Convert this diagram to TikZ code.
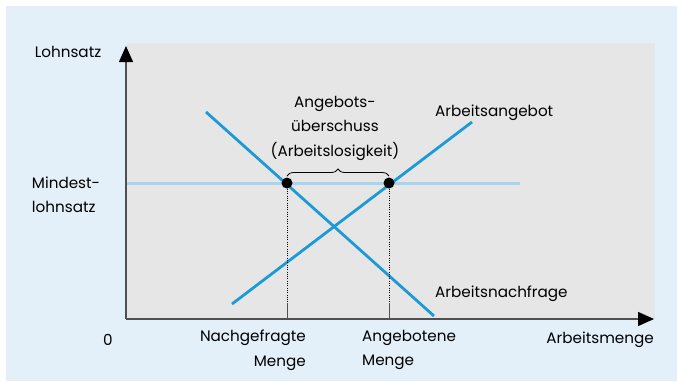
\documentclass[tikz,border=0pt]{standalone}
\usepackage{fontspec}
\setmainfont{Poppins}
\usetikzlibrary{arrows.meta,decorations.pathreplacing}
\definecolor{bgblue}{HTML}{E3F0FA}
\definecolor{plotgray}{HTML}{E6E6E6}
\definecolor{curveblue}{HTML}{1C9AD6}
\definecolor{minblue}{HTML}{A8D4EF}
\definecolor{axisgray}{HTML}{505050}
\tikzset{
  lbl/.style={inner sep=0pt, font=\fontsize{15.2}{24.5}\selectfont, text=black},
  axisline/.style={draw=axisgray, line width=1.4pt},
  axisarrow/.style={-{Triangle[length=16pt,width=14pt,color=black]}},
  curve/.style={draw=curveblue, line width=2.8pt},
  minline/.style={draw=minblue, line width=3pt},
  dotnode/.style={circle, fill=black, inner sep=0pt, minimum size=11pt},
  guide/.style={draw=black, line width=0.6pt, dash pattern=on 0.7pt off 1.6pt},
  tick/.style={draw=axisgray, line width=0.9pt},
  bracepath/.style={draw=black, line width=0.8pt, decorate, decoration={brace, amplitude=7pt}}
}
\begin{document}
\begin{tikzpicture}[x=1pt,y=-1pt]
\useasboundingbox (0,0) rectangle (677,381);
\fill[white] (0,0) rectangle (677,381);
\fill[bgblue] (6,6) rectangle (677,381);
\fill[plotgray] (127,43) rectangle (655,319);
% coordinates
\coordinate (O) at (126,319);
\coordinate (ytip) at (126,46);
\coordinate (xtip) at (654,319);
\coordinate (m1) at (127,183);
\coordinate (m2) at (520,183);
\coordinate (D1) at (206,112);
\coordinate (D2) at (434,316);
\coordinate (S1) at (232,304);
\coordinate (S2) at (472,122);
\coordinate (gA) at (287,303);
\coordinate (gB) at (389,303);
\coordinate (bA) at (287,319);
\coordinate (bB) at (389,319);
\coordinate (brL) at (287,176);
\coordinate (brR) at (389,176);
% minimum wage line
\draw[minline] (m1) -- (m2);
% curves
\draw[curve] (D1) -- (D2);
\draw[curve] (S1) -- (S2);
% dots
\node[dotnode] (dA) at (287,183) {};
\node[dotnode] (dB) at (389,183) {};
% guides
\draw[guide] (dA) -- (gA);
\draw[guide] (dB) -- (gB);
\draw[tick] (gA) -- (bA);
\draw[tick] (gB) -- (bB);
% axes
\draw[axisline, axisarrow] (O) -- (ytip);
\draw[axisline, axisarrow] (O) -- (xtip);
% brace
\draw[bracepath] (brL) -- (brR);
% labels
\node[lbl] (lohn) at (68,52) {Lohnsatz};
\node[lbl, align=left] (mindest) at (66,195) {Mindest-\\lohnsatz};
\node[lbl, align=center] (ueber) at (335,128) {Angebots-\\überschuss\\(Arbeitslosigkeit)};
\node[lbl, anchor=west] (angebot) at (435,113) {Arbeitsangebot};
\node[lbl, anchor=west] (nachfrage) at (435,294) {Arbeitsnachfrage};
\node[lbl] (zero) at (108,340) {0};
\node[lbl, align=right, anchor=north east] (nmenge) at (306,330) {Nachgefragte\\Menge};
\node[lbl, align=left, anchor=north west] (amenge) at (362,330) {Angebotene\\Menge};
\node[lbl, anchor=east] (amenge2) at (654,340) {Arbeitsmenge};
\end{tikzpicture}
\end{document}
